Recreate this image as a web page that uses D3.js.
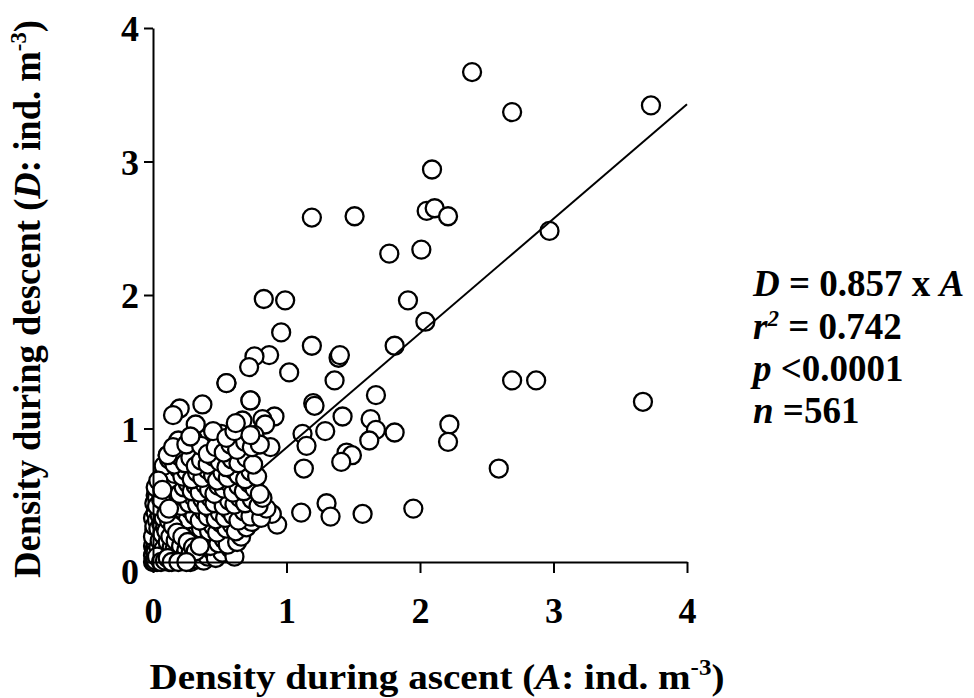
<!DOCTYPE html>
<html>
<head>
<meta charset="utf-8">
<script src="https://cdn.jsdelivr.net/npm/d3@7"></script>
<style>
  body { margin: 0; background: #fff; }
  text { font-family: "Liberation Serif", "Times New Roman", serif; font-weight: bold; }
</style>
</head>
<body>
<svg id="chart"></svg>
<script>
// density during ascent (A) and descent (D), ind. m-3
var ascent = [
  // scattered points
  2.39, 2.69, 3.73, 2.09, 2.05, 2.11, 2.21, 1.19, 1.51, 1.77, 2.01, 2.97,
  0.83, 0.99, 1.91, 2.04, 0.96, 1.19, 1.81, 0.87, 0.76, 0.72, 1.39, 1.40,
  1.02, 0.55, 1.36, 1.67, 1.20, 1.21, 0.73, 2.69, 2.87, 3.67, 1.42, 1.63,
  1.67, 1.81, 2.22, 2.21, 1.12, 1.15, 1.29, 1.45, 1.49, 1.41, 1.62, 1.13,
  2.59, 1.30, 1.33, 1.11, 1.57, 1.95, 0.93, 0.89, 0.88, 0.91, 0.82, 0.84,
  0.76, 0.65, 0.67, 0.51, 0.37, 0.32, 0.20, 0.15, 0.19, 0.30, 0.11, 0.24,
  0.42, 0.02,
  // dense cluster
  0.01, 0.02, 0.03, 0.04, 0.05, 0.06, 0.07, 0.08, 0.09, 0.10, 0.11, 0.12,
  0.13, 0.14, 0.15, 0.16, 0.17, 0.18, 0.20, 0.22, 0.24, 0.26, 0.28, 0.31,
  0.33, 0.36, 0.38, 0.41, 0.44, 0.47, 0.52, 0.58, 0.61,
  0.00, 0.02, 0.03, 0.05, 0.06, 0.08, 0.09, 0.11, 0.12, 0.14, 0.16, 0.18,
  0.20, 0.21, 0.24, 0.27, 0.29, 0.32, 0.34, 0.37, 0.40, 0.43, 0.46, 0.49,
  0.53, 0.56, 0.63, 0.66,
  0.01, 0.03, 0.04, 0.06, 0.08, 0.10, 0.12, 0.14, 0.15, 0.17, 0.19, 0.22,
  0.25, 0.27, 0.30, 0.33, 0.36, 0.39, 0.42, 0.45, 0.48, 0.51, 0.55, 0.59,
  0.62, 0.70, 0.74,
  0.00, 0.02, 0.05, 0.07, 0.09, 0.11, 0.13, 0.16, 0.18, 0.20, 0.23, 0.26,
  0.28, 0.31, 0.35, 0.38, 0.41, 0.44, 0.47, 0.50, 0.54, 0.57, 0.60, 0.64,
  0.68, 0.73, 0.81, 0.85,
  0.01, 0.03, 0.06, 0.08, 0.10, 0.13, 0.15, 0.18, 0.21, 0.24, 0.27, 0.30,
  0.33, 0.37, 0.40, 0.43, 0.46, 0.50, 0.53, 0.57, 0.61, 0.65, 0.69, 0.74,
  0.79, 0.82,
  0.05, 0.08, 0.11, 0.14, 0.17, 0.20, 0.23, 0.26, 0.29, 0.32, 0.35, 0.39,
  0.42, 0.46, 0.49, 0.53, 0.56, 0.60, 0.64, 0.68, 0.72, 0.76, 0.80,
  0.06, 0.09, 0.12, 0.16, 0.19, 0.22, 0.25, 0.29, 0.33, 0.37, 0.41, 0.45,
  0.48, 0.52, 0.56, 0.60, 0.64, 0.69, 0.73, 0.78,
  0.08, 0.12, 0.16, 0.20, 0.24, 0.28, 0.32, 0.36, 0.41, 0.45, 0.50, 0.55,
  0.59, 0.64, 0.70, 0.75,
  0.11, 0.15, 0.25, 0.36, 0.41, 0.47, 0.53, 0.58, 0.63, 0.69, 0.74, 0.80,
  0.28, 0.45, 0.55, 0.61, 0.73,
  0.62, 0.73, 0.55,
  // black core near the origin
  0.00, 0.01, 0.02, 0.00, 0.01, 0.03, 0.02, 0.04, 0.05, 0.04, 0.06, 0.05,
  0.07, 0.08, 0.07, 0.09, 0.08, 0.10, 0.11, 0.10, 0.12, 0.13, 0.14, 0.13,
  0.15, 0.16, 0.17, 0.18, 0.19, 0.21, 0.22, 0.23, 0.25, 0.26, 0.28, 0.30,
  0.32, 0.35, 0.00, 0.01, 0.02, 0.03, 0.06, 0.09, 0.11, 0.14, 0.19, 0.25,
  0.03, 0.06, 0.02, 0.04, 0.07, 0.10, 0.12
];
var descent = [
  3.67, 3.37, 3.42, 2.94, 2.63, 2.65, 2.59, 2.58, 2.59, 2.31, 2.34, 2.48,
  1.97, 1.96, 1.96, 1.80, 1.72, 1.62, 1.62, 1.55, 1.54, 1.46, 1.53, 1.55,
  1.42, 1.34, 1.36, 1.25, 1.19, 1.17, 1.21, 1.36, 1.36, 1.20, 1.09, 1.07,
  0.99, 0.97, 1.03, 0.90, 0.96, 0.87, 0.98, 0.82, 0.80, 0.75, 0.91, 0.70,
  0.70, 0.44, 0.34, 0.37, 0.36, 0.40, 0.28, 0.36, 0.86, 1.09, 1.07, 1.03,
  0.95, 1.01, 1.06, 0.96, 1.18, 1.03, 1.15, 1.10, 0.91, 0.92, 0.80, 0.82,
  0.76, 0.50,
  0.01, 0.03, 0.00, 0.06, 0.02, 0.08, 0.01, 0.04, 0.10, 0.02, 0.06, 0.00,
  0.09, 0.03, 0.05, 0.01, 0.08, 0.02, 0.05, 0.01, 0.07, 0.03, 0.00, 0.05,
  0.02, 0.08, 0.01, 0.04, 0.09, 0.03, 0.07, 0.10, 0.04,
  0.12, 0.15, 0.18, 0.13, 0.19, 0.14, 0.17, 0.12, 0.20, 0.15, 0.18, 0.12,
  0.16, 0.20, 0.13, 0.18, 0.11, 0.15, 0.20, 0.13, 0.17, 0.12, 0.19, 0.14,
  0.17, 0.13, 0.15, 0.19,
  0.24, 0.28, 0.22, 0.27, 0.23, 0.29, 0.25, 0.22, 0.30, 0.26, 0.23, 0.28,
  0.24, 0.30, 0.22, 0.27, 0.25, 0.29, 0.23, 0.27, 0.22, 0.29, 0.25, 0.28,
  0.23, 0.26, 0.30,
  0.33, 0.37, 0.32, 0.39, 0.34, 0.38, 0.31, 0.36, 0.40, 0.33, 0.37, 0.32,
  0.39, 0.35, 0.31, 0.38, 0.34, 0.39, 0.32, 0.37, 0.33, 0.39, 0.35, 0.31,
  0.38, 0.34, 0.33, 0.40,
  0.44, 0.48, 0.42, 0.47, 0.43, 0.49, 0.44, 0.47, 0.42, 0.48, 0.44, 0.49,
  0.43, 0.47, 0.42, 0.48, 0.44, 0.49, 0.42, 0.46, 0.43, 0.48, 0.44, 0.47,
  0.42, 0.48,
  0.55, 0.52, 0.58, 0.53, 0.57, 0.51, 0.56, 0.59, 0.53, 0.57, 0.52, 0.58,
  0.54, 0.51, 0.57, 0.55, 0.60, 0.52, 0.57, 0.53, 0.59, 0.55, 0.51,
  0.63, 0.68, 0.62, 0.66, 0.70, 0.64, 0.68, 0.62, 0.67, 0.63, 0.69, 0.65,
  0.61, 0.67, 0.63, 0.69, 0.65, 0.62, 0.68, 0.64,
  0.72, 0.77, 0.73, 0.79, 0.74, 0.78, 0.72, 0.76, 0.73, 0.79, 0.75, 0.71,
  0.77, 0.74, 0.78, 0.73,
  0.80, 0.86, 0.88, 0.87, 0.81, 0.86, 0.82, 0.88, 0.84, 0.90, 0.86, 0.88,
  0.94, 0.98, 0.93, 0.98, 0.95,
  1.04, 1.21, 1.34,
  0.05, 0.09, 0.13, 0.19, 0.27, 0.31, 0.07, 0.11, 0.16, 0.25, 0.29, 0.35,
  0.05, 0.10, 0.21, 0.26, 0.33, 0.07, 0.15, 0.23, 0.31, 0.04, 0.11, 0.19,
  0.27, 0.09, 0.16, 0.22, 0.06, 0.12, 0.19, 0.04, 0.09, 0.15, 0.06, 0.11,
  0.08, 0.12, 0.00, 0.00, 0.01, 0.04, 0.00, 0.01, 0.03, 0.00, 0.00, 0.00,
  0.42, 0.47, 0.56, 0.61, 0.54, 0.36, 0.40
];
var xTicks = [0, 1, 2, 3, 4];
var yTicks = [0, 1, 2, 3, 4];
var slope = 0.857;
var fitFrom = 0.8;   // the drawn line comes out of the cluster here
var fitTo = 4;

var width = 974;
var height = 698;
var mLeft = 153, mTop = 28, plotW = 534, plotH = 534;

var svg = d3.select("#chart")
    .attr("width", width)
    .attr("height", height);

var x = d3.scaleLinear().domain([0, 4]).range([mLeft, mLeft + plotW]);
var y = d3.scaleLinear().domain([0, 4]).range([mTop + plotH, mTop]);

var points = ascent.map(function(a, i) { return [a, descent[i]]; });

// circles first, the fit line is drawn over them
svg.selectAll("circle.pt")
    .data(points)
    .enter()
    .append("circle")
    .attr("class", "pt")
    .attr("cx", function(d) { return x(d[0]); })
    .attr("cy", function(d) { return y(d[1]); })
    .attr("r", 9)
    .attr("fill", "#fff")
    .attr("stroke", "#000")
    .attr("stroke-width", 2.3);

svg.append("line")
    .attr("x1", x(fitFrom)).attr("y1", y(slope * fitFrom))
    .attr("x2", x(fitTo)).attr("y2", y(slope * fitTo))
    .attr("stroke", "#000")
    .attr("stroke-width", 2);

// axes
var xAxis = svg.append("g")
    .attr("transform", "translate(0," + (mTop + plotH) + ")")
    .call(d3.axisBottom(x).tickValues(xTicks).tickFormat(d3.format("d"))
        .tickSize(11).tickPadding(24).tickSizeOuter(0));
var yAxis = svg.append("g")
    .attr("transform", "translate(" + mLeft + ",0)")
    .call(d3.axisLeft(y).tickValues(yTicks).tickFormat(d3.format("d"))
        .tickSize(9).tickPadding(5).tickSizeOuter(0));

[xAxis, yAxis].forEach(function(g) {
    g.select(".domain").attr("stroke", "#000").attr("stroke-width", 2);
    g.selectAll(".tick line").attr("stroke", "#000").attr("stroke-width", 2);
    g.selectAll(".tick text")
        .attr("fill", "#000")
        .style("font-family", "'Liberation Serif', serif")
        .style("font-weight", "bold")
        .style("font-size", "36px");
});
yAxis.selectAll(".tick text").attr("dy", "0.35em");
yAxis.selectAll(".tick").filter(function(d) { return d === 0; }).select("text").attr("dy", "0.6em");

// axis titles
var xt = svg.append("text")
    .attr("x", 437).attr("y", 689)
    .attr("text-anchor", "middle")
    .attr("textLength", 575)
    .attr("lengthAdjust", "spacingAndGlyphs")
    .style("font-size", "36px");
xt.append("tspan").text("Density during ascent (");
xt.append("tspan").style("font-style", "italic").text("A");
xt.append("tspan").text(": ind. m");
xt.append("tspan").attr("dy", -14).style("font-size", "23px").text("-3");
xt.append("tspan").attr("dy", 14).text(")");

var yt = svg.append("text")
    .attr("transform", "translate(40,299) rotate(-90)")
    .attr("text-anchor", "middle")
    .attr("textLength", 558)
    .attr("lengthAdjust", "spacingAndGlyphs")
    .style("font-size", "37px");
yt.append("tspan").text("Density during descent (");
yt.append("tspan").style("font-style", "italic").text("D");
yt.append("tspan").text(": ind. m");
yt.append("tspan").attr("dy", -14).style("font-size", "23px").text("-3");
yt.append("tspan").attr("dy", 14).text(")");

// regression annotation
var statX = 753;
var statSize = "37px";
var l1 = svg.append("text").attr("x", statX).attr("y", 296).style("font-size", statSize);
l1.append("tspan").style("font-style", "italic").text("D");
l1.append("tspan").text(" = " + slope + " x ");
l1.append("tspan").style("font-style", "italic").text("A");

var l2 = svg.append("text").attr("x", statX).attr("y", 339).style("font-size", statSize);
l2.append("tspan").style("font-style", "italic").text("r");
l2.append("tspan").attr("dy", -13).style("font-size", "23px").style("font-style", "italic").text("2");
l2.append("tspan").attr("dy", 13).text(" = 0.742");

var l3 = svg.append("text").attr("x", statX).attr("y", 381).style("font-size", statSize);
l3.append("tspan").style("font-style", "italic").text("p");
l3.append("tspan").text(" <0.0001");

var l4 = svg.append("text").attr("x", statX).attr("y", 423).style("font-size", statSize);
l4.append("tspan").style("font-style", "italic").text("n");
l4.append("tspan").text(" =561");
</script>
</body>
</html>
